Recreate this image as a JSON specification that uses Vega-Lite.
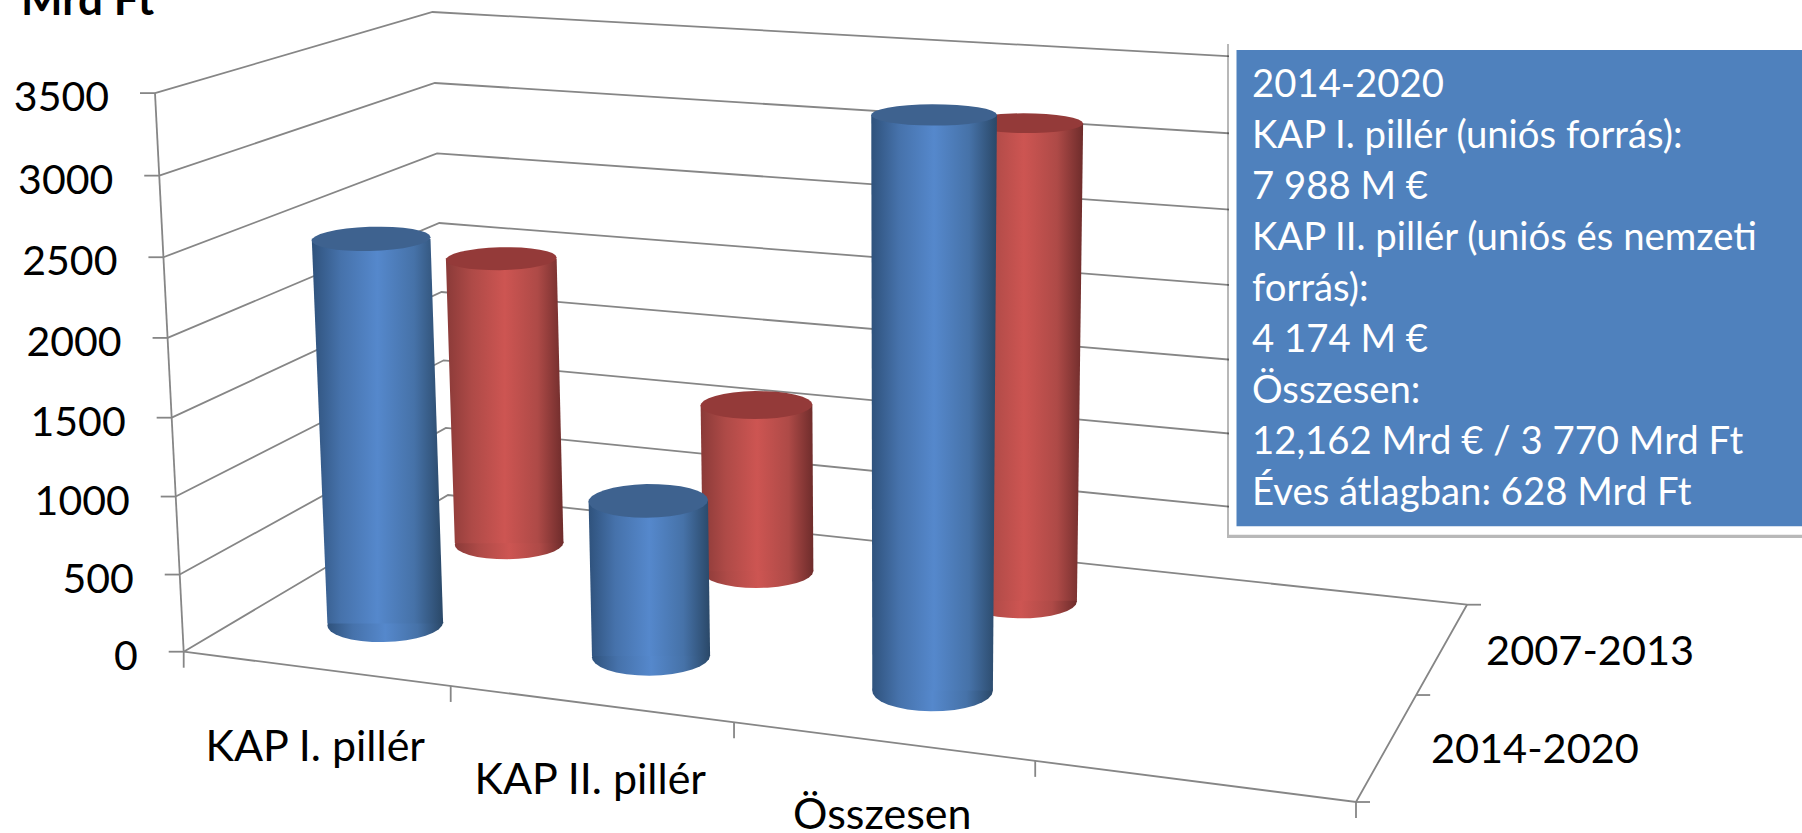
{"$schema":"https://vega.github.io/schema/vega-lite/v6.json","width":1802,"height":833,"padding":0,"autosize":"none","background":"white","config":{"view":{"stroke":null},"text":{"font":"Lato"},"axis":{"grid":false}},"datasets":{"bars":[{"category":"KAP I. pillér","period":"2014-2020","value":2500},{"category":"KAP II. pillér","period":"2014-2020","value":1000},{"category":"Összesen","period":"2014-2020","value":3500},{"category":"KAP I. pillér","period":"2007-2013","value":2000},{"category":"KAP II. pillér","period":"2007-2013","value":1150},{"category":"Összesen","period":"2007-2013","value":3150}],"grid":[{"value":0},{"value":500},{"value":1000},{"value":1500},{"value":2000},{"value":2500},{"value":3000},{"value":3500}],"note":[{"note":"2014-2020"}]},"data":{"name":"bars"},"layer":[
{"encoding":{"x":{"field":"x","type":"quantitative","scale":{"domain":[0,1802],"range":[0,1802],"zero":false,"nice":false},"axis":null},"y":{"field":"y","type":"quantitative","scale":{"domain":[0,833],"range":[0,833],"zero":false,"nice":false},"axis":null}},"layer":[
{"data":{"name":"grid"},"transform":[{"calculate":"[0,0,1]","as":"U"},{"calculate":"[0,1,1]","as":"V"},{"calculate":"[0,1,2]","as":"p"},{"flatten":["U","V","p"]},{"calculate":"datum.value/3500","as":"w"},{"calculate":"1-0.11516*datum.U+0.16299*datum.V-0.03868*datum.w","as":"D"},{"calculate":"(1016.14*datum.U+337.32*datum.V-34.70*datum.w+183.7)/datum.D","as":"x"},{"calculate":"(57.94*datum.U-76.02*datum.V-562.2*datum.w+651.7)/datum.D","as":"y"}],"mark":{"type":"line","stroke":"#868686","strokeWidth":1.8},"encoding":{"detail":{"field":"value"},"order":{"field":"p","type":"quantitative"}}},
{"data":{"name":"grid"},"transform":[{"filter":"datum.value===0"},{"calculate":"[0,1,1]","as":"U"},{"calculate":"[0,0,1]","as":"V"},{"calculate":"[0,1,2]","as":"p"},{"flatten":["U","V","p"]},{"calculate":"1-0.11516*datum.U+0.16299*datum.V","as":"D"},{"calculate":"(1016.14*datum.U+337.32*datum.V+183.7)/datum.D","as":"x"},{"calculate":"(57.94*datum.U-76.02*datum.V+651.7)/datum.D","as":"y"}],"mark":{"type":"line","stroke":"#868686","strokeWidth":1.8},"encoding":{"order":{"field":"p","type":"quantitative"}}},
{"data":{"name":"grid"},"transform":[{"calculate":"datum.value/3500","as":"w"},{"calculate":"1-0.03868*datum.w","as":"D"},{"calculate":"(183.7-34.70*datum.w)/datum.D","as":"x"},{"calculate":"(651.7-562.2*datum.w)/datum.D","as":"y"},{"calculate":"datum.x-15","as":"xe"}],"mark":{"type":"rule","stroke":"#868686","strokeWidth":1.8},"encoding":{"x2":{"field":"xe"}}},
{"data":{"name":"grid"},"transform":[{"filter":"datum.value===0"},{"calculate":"[0,3500]","as":"h"},{"calculate":"[0,1]","as":"p"},{"flatten":["h","p"]},{"calculate":"datum.h/3500","as":"w"},{"calculate":"1-0.03868*datum.w","as":"D"},{"calculate":"(183.7-34.70*datum.w)/datum.D","as":"x"},{"calculate":"(651.7-562.2*datum.w)/datum.D","as":"y"}],"mark":{"type":"line","stroke":"#868686","strokeWidth":1.8},"encoding":{"order":{"field":"p","type":"quantitative"}}},
{"data":{"name":"grid"},"transform":[{"filter":"datum.value===0"},{"calculate":"[0,0.25,0.5,0.75,1]","as":"U"},{"flatten":["U"]},{"calculate":"1-0.11516*datum.U","as":"D"},{"calculate":"(1016.14*datum.U+183.7)/datum.D","as":"x"},{"calculate":"(57.94*datum.U+651.7)/datum.D","as":"y"},{"calculate":"datum.y+16","as":"ye"}],"mark":{"type":"rule","stroke":"#868686","strokeWidth":1.8},"encoding":{"y2":{"field":"ye"}}},
{"data":{"name":"grid"},"transform":[{"filter":"datum.value===0"},{"calculate":"[0,0.5,1]","as":"V"},{"flatten":["V"]},{"calculate":"0.88484+0.16299*datum.V","as":"D"},{"calculate":"(1199.84+337.32*datum.V)/datum.D","as":"x"},{"calculate":"(709.64-76.02*datum.V)/datum.D","as":"y"},{"calculate":"datum.x+14","as":"xe"}],"mark":{"type":"rule","stroke":"#868686","strokeWidth":1.8},"encoding":{"x2":{"field":"xe"}}},

{"transform":[{"filter":"datum.period==='2007-2013'"},{"calculate":"(indexof(['KAP I. pillér','KAP II. pillér','Összesen'],datum.category)+0.5)/4","as":"u"},{"calculate":"0.75","as":"v"},{"calculate":"0.057-0.008*datum.u","as":"r"},{"calculate":"0","as":"w"},{"calculate":"(1016.14*(datum.u-datum.r)+337.32*datum.v-34.70*datum.w+183.7)/(1-0.11516*(datum.u-datum.r)+0.16299*datum.v-0.03868*datum.w)","as":"xl"},{"calculate":"(1016.14*(datum.u+datum.r)+337.32*datum.v-34.70*datum.w+183.7)/(1-0.11516*(datum.u+datum.r)+0.16299*datum.v-0.03868*datum.w)","as":"xr"},{"calculate":"(57.94*datum.u-76.02*(datum.v-0.105)-562.2*datum.w+651.7)/(1-0.11516*datum.u+0.16299*(datum.v-0.105)-0.03868*datum.w)","as":"yn"},{"calculate":"(57.94*datum.u-76.02*(datum.v+0.105)-562.2*datum.w+651.7)/(1-0.11516*datum.u+0.16299*(datum.v+0.105)-0.03868*datum.w)","as":"yf"},{"calculate":"sequence(0,3.3,0.2)","as":"t"},{"flatten":["t"]},{"calculate":"min(datum.t,PI)","as":"a"},{"calculate":"(datum.xl+datum.xr)/2+(datum.xr-datum.xl)/2*cos(datum.a)","as":"x"},{"calculate":"0.00005*((datum.xl+datum.xr)/2-940)*(datum.xr-datum.xl)/2*cos(datum.a)","as":"tilt"},{"calculate":"(datum.yn+datum.yf)/2+(datum.yn-datum.yf)/2*sin(datum.a)+datum.tilt","as":"y"},{"calculate":"(datum.yn+datum.yf)/2-(datum.yn-datum.yf)/2*sin(datum.a)+datum.tilt","as":"y2f"}],"mark":{"type":"area","orient":"vertical","fill":{"gradient":"linear","x1":0,"y1":0,"x2":1,"y2":0,"stops":[{"offset":0,"color":"#8a3a38"},{"offset":0.22,"color":"#ae4a47"},{"offset":0.5,"color":"#cd5552"},{"offset":0.78,"color":"#ae4a47"},{"offset":1,"color":"#6e2c2b"}]}},"encoding":{"detail":{"field":"category"},"y2":{"field":"y2f"}}},
{"transform":[{"filter":"datum.period==='2007-2013'"},{"calculate":"(indexof(['KAP I. pillér','KAP II. pillér','Összesen'],datum.category)+0.5)/4","as":"u"},{"calculate":"0.75","as":"v"},{"calculate":"0.057-0.008*datum.u","as":"r"},{"calculate":"[0,datum.value]","as":"h"},{"flatten":["h"]},{"calculate":"datum.h/3500","as":"w"},{"calculate":"1+0.16299*datum.v-0.03868*datum.w","as":"d"},{"calculate":"337.32*datum.v-34.70*datum.w+183.7","as":"n"},{"calculate":"-76.02*datum.v-562.2*datum.w+651.7","as":"m"},{"calculate":"(1016.14*(datum.u-datum.r)+datum.n)/(datum.d-0.11516*(datum.u-datum.r))","as":"x"},{"calculate":"(1016.14*(datum.u+datum.r)+datum.n)/(datum.d-0.11516*(datum.u+datum.r))","as":"xr"},{"calculate":"(57.94*datum.u+datum.m)/(datum.d-0.11516*datum.u)","as":"y"}],"mark":{"type":"area","orient":"horizontal","fill":{"gradient":"linear","x1":0,"y1":0,"x2":1,"y2":0,"stops":[{"offset":0,"color":"#8a3a38"},{"offset":0.22,"color":"#ae4a47"},{"offset":0.5,"color":"#cd5552"},{"offset":0.78,"color":"#ae4a47"},{"offset":1,"color":"#6e2c2b"}]}},"encoding":{"detail":{"field":"category"},"x2":{"field":"xr"}}},
{"transform":[{"filter":"datum.period==='2007-2013'"},{"calculate":"(indexof(['KAP I. pillér','KAP II. pillér','Összesen'],datum.category)+0.5)/4","as":"u"},{"calculate":"0.75","as":"v"},{"calculate":"0.057-0.008*datum.u","as":"r"},{"calculate":"datum.value/3500","as":"w"},{"calculate":"(1016.14*(datum.u-datum.r)+337.32*datum.v-34.70*datum.w+183.7)/(1-0.11516*(datum.u-datum.r)+0.16299*datum.v-0.03868*datum.w)","as":"xl"},{"calculate":"(1016.14*(datum.u+datum.r)+337.32*datum.v-34.70*datum.w+183.7)/(1-0.11516*(datum.u+datum.r)+0.16299*datum.v-0.03868*datum.w)","as":"xr"},{"calculate":"(57.94*datum.u-76.02*(datum.v-0.105)-562.2*datum.w+651.7)/(1-0.11516*datum.u+0.16299*(datum.v-0.105)-0.03868*datum.w)","as":"yn"},{"calculate":"(57.94*datum.u-76.02*(datum.v+0.105)-562.2*datum.w+651.7)/(1-0.11516*datum.u+0.16299*(datum.v+0.105)-0.03868*datum.w)","as":"yf"},{"calculate":"sequence(0,3.3,0.2)","as":"t"},{"flatten":["t"]},{"calculate":"min(datum.t,PI)","as":"a"},{"calculate":"(datum.xl+datum.xr)/2+(datum.xr-datum.xl)/2*cos(datum.a)","as":"x"},{"calculate":"0.00005*((datum.xl+datum.xr)/2-940)*(datum.xr-datum.xl)/2*cos(datum.a)","as":"tilt"},{"calculate":"(datum.yn+datum.yf)/2+(datum.yn-datum.yf)/2*sin(datum.a)+datum.tilt","as":"y"},{"calculate":"(datum.yn+datum.yf)/2-(datum.yn-datum.yf)/2*sin(datum.a)+datum.tilt","as":"y2f"}],"mark":{"type":"area","orient":"vertical","fill":"#943a39"},"encoding":{"detail":{"field":"category"},"y2":{"field":"y2f"}}},

{"transform":[{"filter":"datum.period==='2014-2020'"},{"calculate":"(indexof(['KAP I. pillér','KAP II. pillér','Összesen'],datum.category)+0.5)/4","as":"u"},{"calculate":"0.25","as":"v"},{"calculate":"0.057-0.008*datum.u","as":"r"},{"calculate":"0","as":"w"},{"calculate":"(1016.14*(datum.u-datum.r)+337.32*datum.v-34.70*datum.w+183.7)/(1-0.11516*(datum.u-datum.r)+0.16299*datum.v-0.03868*datum.w)","as":"xl"},{"calculate":"(1016.14*(datum.u+datum.r)+337.32*datum.v-34.70*datum.w+183.7)/(1-0.11516*(datum.u+datum.r)+0.16299*datum.v-0.03868*datum.w)","as":"xr"},{"calculate":"(57.94*datum.u-76.02*(datum.v-0.105)-562.2*datum.w+651.7)/(1-0.11516*datum.u+0.16299*(datum.v-0.105)-0.03868*datum.w)","as":"yn"},{"calculate":"(57.94*datum.u-76.02*(datum.v+0.105)-562.2*datum.w+651.7)/(1-0.11516*datum.u+0.16299*(datum.v+0.105)-0.03868*datum.w)","as":"yf"},{"calculate":"sequence(0,3.3,0.2)","as":"t"},{"flatten":["t"]},{"calculate":"min(datum.t,PI)","as":"a"},{"calculate":"(datum.xl+datum.xr)/2+(datum.xr-datum.xl)/2*cos(datum.a)","as":"x"},{"calculate":"0.00005*((datum.xl+datum.xr)/2-940)*(datum.xr-datum.xl)/2*cos(datum.a)","as":"tilt"},{"calculate":"(datum.yn+datum.yf)/2+(datum.yn-datum.yf)/2*sin(datum.a)+datum.tilt","as":"y"},{"calculate":"(datum.yn+datum.yf)/2-(datum.yn-datum.yf)/2*sin(datum.a)+datum.tilt","as":"y2f"}],"mark":{"type":"area","orient":"vertical","fill":{"gradient":"linear","x1":0,"y1":0,"x2":1,"y2":0,"stops":[{"offset":0,"color":"#2f527c"},{"offset":0.22,"color":"#4672ab"},{"offset":0.5,"color":"#5588cc"},{"offset":0.78,"color":"#4672a8"},{"offset":1,"color":"#2a4868"}]}},"encoding":{"detail":{"field":"category"},"y2":{"field":"y2f"}}},
{"transform":[{"filter":"datum.period==='2014-2020'"},{"calculate":"(indexof(['KAP I. pillér','KAP II. pillér','Összesen'],datum.category)+0.5)/4","as":"u"},{"calculate":"0.25","as":"v"},{"calculate":"0.057-0.008*datum.u","as":"r"},{"calculate":"[0,datum.value]","as":"h"},{"flatten":["h"]},{"calculate":"datum.h/3500","as":"w"},{"calculate":"1+0.16299*datum.v-0.03868*datum.w","as":"d"},{"calculate":"337.32*datum.v-34.70*datum.w+183.7","as":"n"},{"calculate":"-76.02*datum.v-562.2*datum.w+651.7","as":"m"},{"calculate":"(1016.14*(datum.u-datum.r)+datum.n)/(datum.d-0.11516*(datum.u-datum.r))","as":"x"},{"calculate":"(1016.14*(datum.u+datum.r)+datum.n)/(datum.d-0.11516*(datum.u+datum.r))","as":"xr"},{"calculate":"(57.94*datum.u+datum.m)/(datum.d-0.11516*datum.u)","as":"y"}],"mark":{"type":"area","orient":"horizontal","fill":{"gradient":"linear","x1":0,"y1":0,"x2":1,"y2":0,"stops":[{"offset":0,"color":"#2f527c"},{"offset":0.22,"color":"#4672ab"},{"offset":0.5,"color":"#5588cc"},{"offset":0.78,"color":"#4672a8"},{"offset":1,"color":"#2a4868"}]}},"encoding":{"detail":{"field":"category"},"x2":{"field":"xr"}}},
{"transform":[{"filter":"datum.period==='2014-2020'"},{"calculate":"(indexof(['KAP I. pillér','KAP II. pillér','Összesen'],datum.category)+0.5)/4","as":"u"},{"calculate":"0.25","as":"v"},{"calculate":"0.057-0.008*datum.u","as":"r"},{"calculate":"datum.value/3500","as":"w"},{"calculate":"(1016.14*(datum.u-datum.r)+337.32*datum.v-34.70*datum.w+183.7)/(1-0.11516*(datum.u-datum.r)+0.16299*datum.v-0.03868*datum.w)","as":"xl"},{"calculate":"(1016.14*(datum.u+datum.r)+337.32*datum.v-34.70*datum.w+183.7)/(1-0.11516*(datum.u+datum.r)+0.16299*datum.v-0.03868*datum.w)","as":"xr"},{"calculate":"(57.94*datum.u-76.02*(datum.v-0.105)-562.2*datum.w+651.7)/(1-0.11516*datum.u+0.16299*(datum.v-0.105)-0.03868*datum.w)","as":"yn"},{"calculate":"(57.94*datum.u-76.02*(datum.v+0.105)-562.2*datum.w+651.7)/(1-0.11516*datum.u+0.16299*(datum.v+0.105)-0.03868*datum.w)","as":"yf"},{"calculate":"sequence(0,3.3,0.2)","as":"t"},{"flatten":["t"]},{"calculate":"min(datum.t,PI)","as":"a"},{"calculate":"(datum.xl+datum.xr)/2+(datum.xr-datum.xl)/2*cos(datum.a)","as":"x"},{"calculate":"0.00005*((datum.xl+datum.xr)/2-940)*(datum.xr-datum.xl)/2*cos(datum.a)","as":"tilt"},{"calculate":"(datum.yn+datum.yf)/2+(datum.yn-datum.yf)/2*sin(datum.a)+datum.tilt","as":"y"},{"calculate":"(datum.yn+datum.yf)/2-(datum.yn-datum.yf)/2*sin(datum.a)+datum.tilt","as":"y2f"}],"mark":{"type":"area","orient":"vertical","fill":"#3e628f"},"encoding":{"detail":{"field":"category"},"y2":{"field":"y2f"}}},

{"data":{"name":"grid"},"transform":[{"calculate":"datum.value/3500","as":"w"},{"calculate":"1-0.03868*datum.w","as":"D"},{"calculate":"(183.7-34.70*datum.w)/datum.D-46","as":"x"},{"calculate":"(651.7-562.2*datum.w)/datum.D+6","as":"y"}],"mark":{"type":"text","align":"right","baseline":"middle","fontSize":41,"fill":"#000000"},"encoding":{"text":{"field":"value","type":"quantitative","format":"d"}}},
{"transform":[{"filter":"datum.period==='2014-2020'"},{"calculate":"(indexof(['KAP I. pillér','KAP II. pillér','Összesen'],datum.category)+0.5)/4","as":"u"},{"calculate":"1-0.11516*datum.u","as":"D"},{"calculate":"(1016.14*datum.u+183.7)/datum.D","as":"x"},{"calculate":"(57.94*datum.u+651.7)/datum.D+92-8*(datum.u-0.125)","as":"y"}],"mark":{"type":"text","align":"center","baseline":"alphabetic","fontSize":43,"fill":"#000000"},"encoding":{"text":{"field":"category","type":"nominal"}}},
{"transform":[{"filter":"datum.category==='Összesen'"},{"calculate":"datum.period==='2014-2020'?0.25:0.75","as":"v"},{"calculate":"0.88484+0.16299*datum.v","as":"D"},{"calculate":"(1199.84+337.32*datum.v)/datum.D+43.5","as":"x"},{"calculate":"(709.64-76.02*datum.v)/datum.D+17","as":"y"}],"mark":{"type":"text","align":"left","baseline":"alphabetic","fontSize":41.5,"fill":"#000000"},"encoding":{"text":{"field":"period","type":"nominal"}}}
]},
{"data":{"name":"note"},"mark":{"type":"text","text":"Mrd Ft","align":"left","baseline":"alphabetic","fontSize":44,"fontWeight":"bold","fill":"#000000"},"encoding":{"x":{"datum":21,"type":"quantitative","scale":{"domain":[0,1802],"range":[0,1802],"zero":false,"nice":false},"axis":null},"y":{"datum":15,"type":"quantitative","scale":{"domain":[0,833],"range":[0,833],"zero":false,"nice":false},"axis":null}}},
{"data":{"name":"note"},"mark":{"type":"rect","fill":"#000000","opacity":0.28},"encoding":{"x":{"datum":1227,"type":"quantitative","scale":{"domain":[0,1802],"range":[0,1802],"zero":false,"nice":false},"axis":null},"x2":{"datum":1802},"y":{"datum":44,"type":"quantitative","scale":{"domain":[0,833],"range":[0,833],"zero":false,"nice":false},"axis":null},"y2":{"datum":538}}},
{"data":{"name":"note"},"mark":{"type":"rect","fill":"#ffffff"},"encoding":{"x":{"datum":1229,"type":"quantitative","scale":{"domain":[0,1802],"range":[0,1802],"zero":false,"nice":false},"axis":null},"x2":{"datum":1802},"y":{"datum":42.7,"type":"quantitative","scale":{"domain":[0,833],"range":[0,833],"zero":false,"nice":false},"axis":null},"y2":{"datum":534.7}}},
{"data":{"name":"note"},"mark":{"type":"rect","fill":"#4f81bd"},"encoding":{"x":{"datum":1236.5,"type":"quantitative","scale":{"domain":[0,1802],"range":[0,1802],"zero":false,"nice":false},"axis":null},"x2":{"datum":1802},"y":{"datum":50,"type":"quantitative","scale":{"domain":[0,833],"range":[0,833],"zero":false,"nice":false},"axis":null},"y2":{"datum":526.3}}},
{"data":{"name":"note"},"mark":{"type":"text","text":["2014-2020","KAP I. pillér (uniós forrás):","7 988 M €","KAP II. pillér (uniós és nemzeti","forrás):","4 174 M €","Összesen:","12,162 Mrd € / 3 770 Mrd Ft","Éves átlagban: 628 Mrd Ft"],"align":"left","baseline":"alphabetic","fontSize":38.3,"lineHeight":51,"fill":"#ffffff"},"encoding":{"x":{"datum":1252,"type":"quantitative","scale":{"domain":[0,1802],"range":[0,1802],"zero":false,"nice":false},"axis":null},"y":{"datum":97,"type":"quantitative","scale":{"domain":[0,833],"range":[0,833],"zero":false,"nice":false},"axis":null}}}
]}
